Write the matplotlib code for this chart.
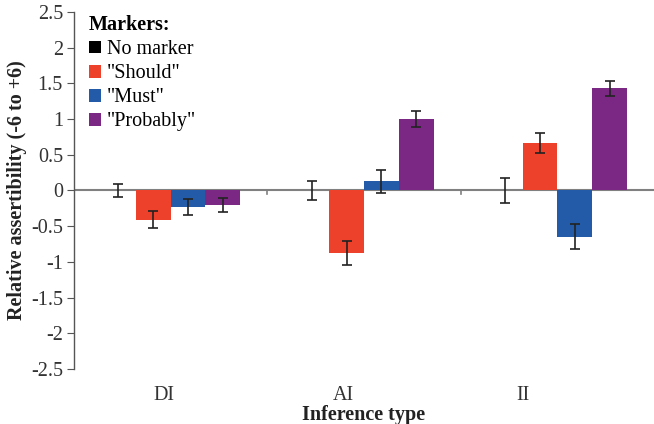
import matplotlib.pyplot as plt
import numpy as np

plt.rcParams['font.family'] = ['Liberation Serif', 'DejaVu Serif']

categories = ["DI", "AI", "II"]
markers = ["No marker", '"Should"', '"Must"', '"Probably"']
colors = ["#000000", "#EE412B", "#245BA8", "#7A2884"]

# means per marker, one value per inference type
no_marker = [0.0, 0.0, 0.0]
should = [-0.41, -0.88, 0.67]
must = [-0.23, 0.13, -0.645]
probably = [-0.2, 1.0, 1.43]

no_marker_err = [0.09, 0.14, 0.17]
should_err = [0.12, 0.17, 0.14]
must_err = [0.11, 0.16, 0.175]
probably_err = [0.1, 0.11, 0.1]

values = [no_marker, should, must, probably]
errors = [no_marker_err, should_err, must_err, probably_err]

fs = 14.5

fig = plt.figure(figsize=(6.54, 4.24), dpi=100)
ax = fig.add_axes([74/654, 1-369/424, 1-74/654, (369-12)/424])

x = np.arange(len(categories))
w = 0.18
handles = []
for i, (vals, errs, c, lab) in enumerate(zip(values, errors, colors, markers)):
    pos = x + (i - 1.5) * w
    b = ax.bar(pos, vals, w, color=c, label=lab, zorder=2)
    ax.errorbar(pos, vals, yerr=errs, fmt='none', ecolor='#222222',
                elinewidth=1.2, capsize=3.5, capthick=1.2, zorder=3)
    handles.append(b)

ax.axhline(0, color='#808080', lw=1.5, zorder=1)
ax.set_xlim(-0.5, 2.5)
ax.set_ylim(-2.5, 2.5)
ax.set_yticks(np.arange(-2.5, 2.51, 0.5))
ax.set_yticklabels(["%g" % v for v in np.arange(-2.5, 2.51, 0.5)], fontsize=fs, color='#333333')
ax.tick_params(axis='y', length=5, color='#555555', pad=3)

# category labels sit a little left of the group centres
ax.set_xticks([-0.036, 0.892, 1.82])
ax.set_xticklabels(categories, fontsize=fs, color='#333333')
ax.tick_params(axis='x', length=0, pad=12)
for xm in [0.5, 1.5]:
    ax.plot([xm, xm], [0, -0.05], color='#808080', lw=1.2, zorder=1)

for s in ['top', 'right', 'bottom']:
    ax.spines[s].set_visible(False)
ax.spines['left'].set_color('#555555')
ax.spines['left'].set_linewidth(1.0)

ax.set_xlabel("Inference type", fontsize=fs, fontweight='bold', labelpad=0, color='#222222')
ax.set_ylabel("Relative assertibility (-6 to +6)", fontsize=fs, fontweight='bold', color='#222222', labelpad=3)

leg = ax.legend(handles=handles, labels=markers, loc='upper left',
                bbox_to_anchor=(0.005, 1.025), frameon=False, title="Markers:",
                title_fontproperties={'weight': 'bold', 'size': fs},
                fontsize=fs, handlelength=0.6, handleheight=0.6,
                handletextpad=0.3, labelspacing=0.25, alignment='left',
                borderaxespad=0.2)

fig.savefig("out.png", dpi=100)
